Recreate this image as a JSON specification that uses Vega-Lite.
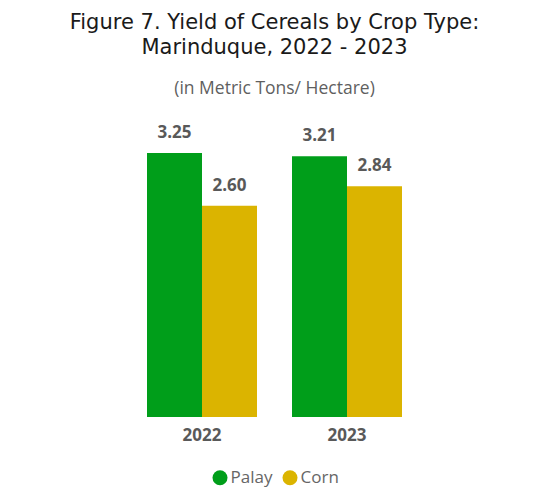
{
  "$schema": "https://vega.github.io/schema/vega-lite/v6.json",
  "autosize": {"type": "none"},
  "width": 400,
  "height": 307,
  "padding": {"left": 74.5, "top": 110, "right": 61.5, "bottom": 79},
  "background": "white",
  "title": {
    "text": ["Figure 7. Yield of Cereals by Crop Type:", "Marinduque, 2022 - 2023"],
    "subtitle": "(in Metric Tons/ Hectare)",
    "anchor": "middle",
    "frame": "group",
    "font": "DejaVu Sans",
    "fontSize": 21,
    "fontWeight": "normal",
    "color": "#1a1a1a",
    "lineHeight": 25,
    "subtitleFont": "Open Sans",
    "subtitleFontSize": 17.5,
    "subtitleColor": "#5f5f5f",
    "subtitlePadding": 22,
    "offset": 13
  },
  "data": {
    "values": [
      {"year": "2022", "crop": "Palay", "yield": 3.25},
      {"year": "2022", "crop": "Corn", "yield": 2.60},
      {"year": "2023", "crop": "Palay", "yield": 3.21},
      {"year": "2023", "crop": "Corn", "yield": 2.84}
    ]
  },
  "encoding": {
    "x": {
      "field": "year", "type": "nominal", "title": null,
      "scale": {"paddingInner": 0.2414, "paddingOuter": 0.5},
      "axis": {"domain": false, "ticks": false, "labelAngle": 0, "labelFont": "Open Sans", "labelFontSize": 17, "labelFontWeight": "bold", "labelColor": "#595959", "labelPadding": 10}
    },
    "xOffset": {"field": "crop", "type": "nominal", "sort": ["Palay", "Corn"]},
    "y": {
      "field": "yield", "type": "quantitative",
      "scale": {"domain": [0, 3.78]},
      "axis": null
    }
  },
  "layer": [
    {
      "mark": {"type": "bar"},
      "encoding": {
        "color": {
          "field": "crop", "type": "nominal", "sort": ["Palay", "Corn"],
          "scale": {"domain": ["Palay", "Corn"], "range": ["#009e1a", "#dbb400"]},
          "legend": {"orient": "none", "legendX": 137, "legendY": 359, "direction": "horizontal", "title": null, "symbolType": "circle", "symbolSize": 225, "symbolStrokeWidth": 0, "labelFont": "Open Sans", "labelFontSize": 17, "labelColor": "#666666", "columnPadding": 9, "labelOffset": 2}
        }
      }
    },
    {
      "mark": {"type": "text", "baseline": "bottom", "dy": -11, "font": "Open Sans", "fontSize": 17, "fontWeight": "bold", "color": "#595959"},
      "encoding": {
        "text": {"field": "yield", "type": "quantitative", "format": ".2f"}
      }
    }
  ],
  "config": {"view": {"stroke": null}, "legend": {"symbolOpacity": 1}}
}
